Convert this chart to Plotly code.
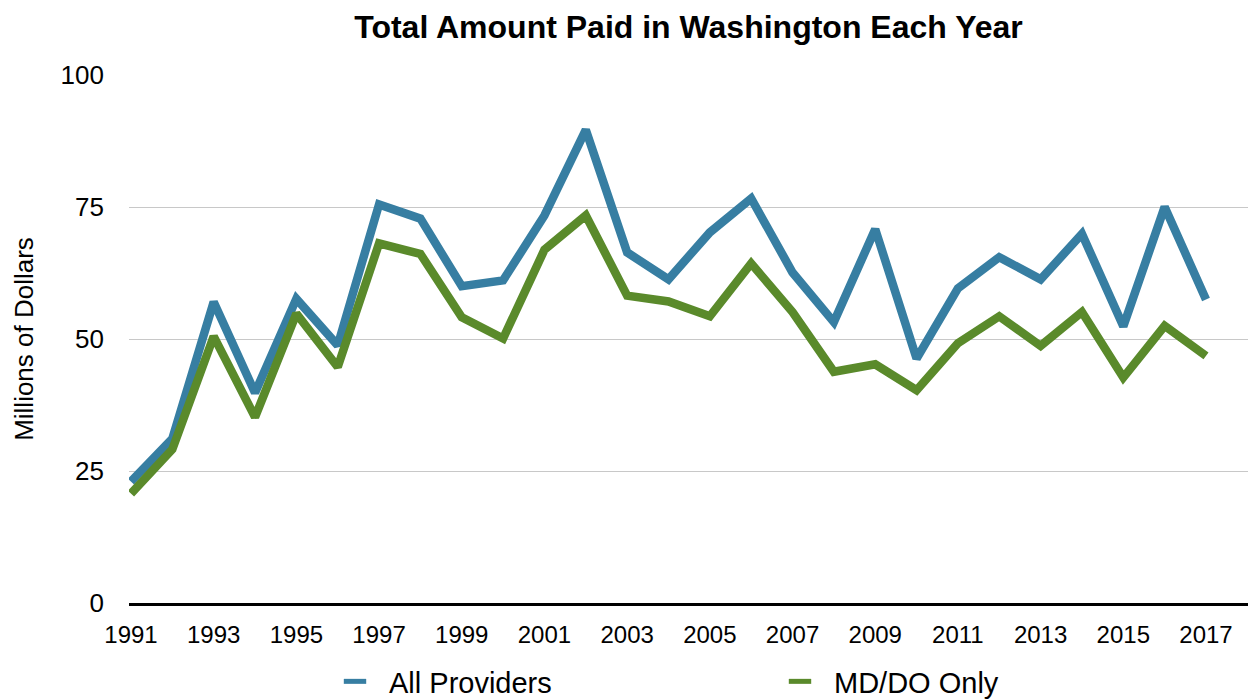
import plotly.graph_objects as go

years = list(range(1991, 2018))
all_providers = [23.0, 31.1, 57.0, 39.8, 57.6, 48.8, 75.5, 72.8, 60.0, 61.1,
                 73.4, 89.6, 66.4, 61.3, 70.2, 76.6, 62.6, 53.2, 70.8, 46.3,
                 59.6, 65.5, 61.3, 69.9, 52.4, 75.0, 57.5]
md_do_only = [20.7, 29.1, 50.5, 35.2, 54.8, 44.7, 68.1, 66.1, 54.1, 50.1,
              66.9, 73.4, 58.2, 57.1, 54.3, 64.3, 55.1, 43.8, 45.2, 40.3,
              49.2, 54.3, 48.7, 55.1, 42.7, 52.5, 46.8]
series_names = ["All Providers", "MD/DO Only"]
colors = ["#377EA2", "#5A8A2B"]
tick_years = list(range(1991, 2018, 2))
tick_labels = [str(y) for y in tick_years]
y_ticks = [0, 25, 50, 75, 100]

FONT = "Liberation Sans, Arial, Helvetica, sans-serif"

fig = go.Figure()
for name, vals, col in zip(series_names, [all_providers, md_do_only], colors):
    fig.add_trace(go.Scatter(x=years, y=vals, mode="lines", name=name,
                             line=dict(color=col, width=8.5),
                             showlegend=False, hoverinfo="x+y"))
# legend entries (short dash symbols)
for name, col in zip(series_names, colors):
    fig.add_trace(go.Scatter(x=[None], y=[None], mode="markers", name=name,
                             marker=dict(symbol="line-ew-open", size=24, color=col,
                                         line=dict(color=col, width=6)),
                             showlegend=True))

fig.update_layout(
    width=1251, height=700,
    margin=dict(l=129, r=3, t=75, b=97, autoexpand=False),
    paper_bgcolor="white", plot_bgcolor="white",
    font=dict(family=FONT, color="black"),
    title=dict(text="<b>Total Amount Paid in Washington Each Year</b>",
               font=dict(size=32, family=FONT, color="black"),
               x=0.5, xref="paper", xanchor="center",
               y=1 - 27 / 700, yref="container", yanchor="middle"),
    xaxis=dict(range=[1990.952, 2018.016], tickmode="array",
               tickvals=tick_years, ticktext=tick_labels,
               showgrid=False, zeroline=False, ticks="",
               showline=True, linecolor="black", linewidth=3,
               tickfont=dict(size=24, family=FONT, color="black"),
               ticklabelstandoff=8, fixedrange=True),
    yaxis=dict(range=[0, 100], tickmode="array", tickvals=y_ticks,
               showgrid=True, gridcolor="#C8C8C8", gridwidth=1,
               zeroline=False, ticks="", showline=False,
               tickfont=dict(size=26, family=FONT, color="black"),
               ticklabelstandoff=24,
               title=dict(text="Millions of Dollars",
                          font=dict(size=26, family=FONT, color="black"),
                          standoff=19),
               fixedrange=True),
    legend=dict(orientation="h", x=(321 - 129) / 1119, xanchor="left",
                y=1 - 656 / 700, yref="container", yanchor="top",
                itemwidth=58, entrywidth=372, entrywidthmode="pixels",
                font=dict(size=29, family=FONT, color="black"),
                bgcolor="rgba(0,0,0,0)"),
)

fig.write_html("out.html", config={"displayModeBar": False},
               post_script="document.body.style.margin='0';document.body.style.padding='0';")
